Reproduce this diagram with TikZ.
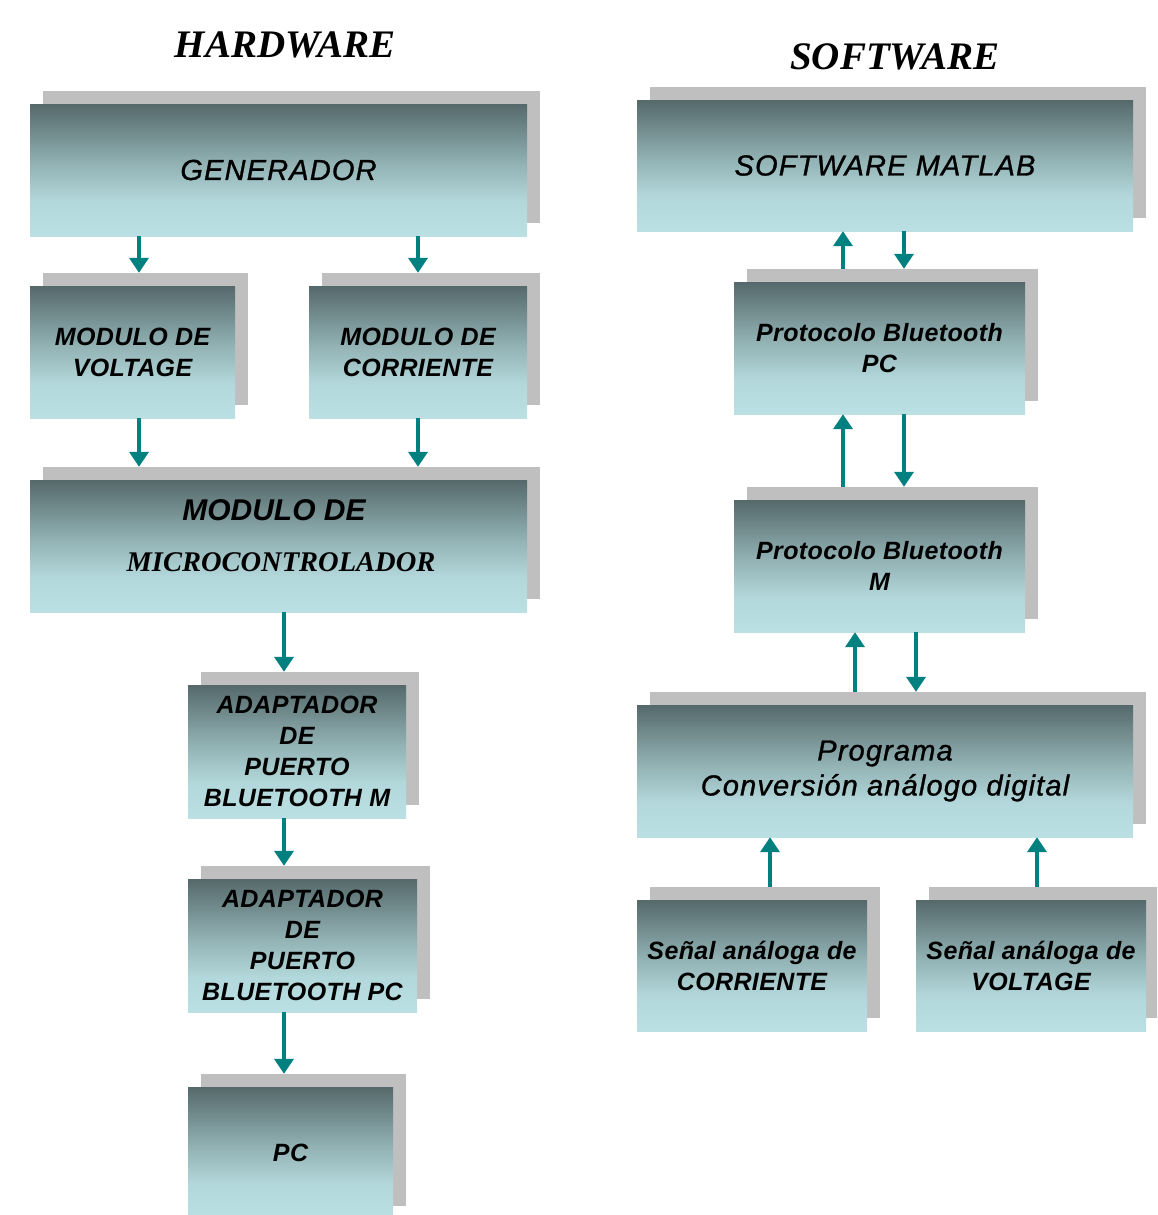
\documentclass[tikz,border=0pt]{standalone}
\usepackage{fontspec}
\setmainfont{Liberation Sans}
\newfontfamily\serifit{Liberation Serif}
\usetikzlibrary{arrows.meta}
\definecolor{boxdark}{HTML}{55696B}
\definecolor{boxmid}{HTML}{93B3B5}
\definecolor{boxlight}{HTML}{BAE0E3}
\definecolor{boxlight2}{HTML}{B3D8DB}
\definecolor{shadowgray}{HTML}{BFBFBF}
\definecolor{arrowteal}{HTML}{00807F}
\pgfdeclareverticalshading{boxshade}{100bp}{color(0bp)=(boxlight); color(25bp)=(boxlight); color(38bp)=(boxlight2); color(52bp)=(boxmid); color(75bp)=(boxdark); color(100bp)=(boxdark)}
\tikzset{
  shbox/.style={rectangle, draw=none, fill=shadowgray, inner sep=0pt},
  frbox/.style={rectangle, draw=none, shading=boxshade, inner sep=0pt, align=center, text=black},
  arr/.style={draw=arrowteal, line width=4pt, -{Triangle[width=19pt,length=15pt]}},
  bi/.style={font=\fontsize{25}{31}\selectfont\bfseries\itshape\addfontfeature{LetterSpace=1.5}},
  ri/.style={font=\fontsize{29}{35}\selectfont\itshape\addfontfeature{LetterSpace=4,FakeBold=1}},
}
\newcommand\mybox[7]{%
  \node[shbox, minimum width=#4pt, minimum height=#5pt] (#1-s) at (#2+13,#3-13) {};
  \node[frbox, minimum width=#4pt, minimum height=#5pt, #7] (#1) at (#2,#3) {#6};}
\begin{document}
\begin{tikzpicture}[x=1pt,y=-1pt]
\clip (0,0) rectangle (1157,1215);
\fill[white] (0,0) rectangle (1157,1215);
% titles
\node[font=\fontsize{39}{42}\selectfont\serifit\bfseries\itshape] (hw) at (285,45) {HARDWARE};
\node[font=\fontsize{39}{42}\selectfont\serifit\bfseries\itshape] (sw) at (895,57) {SOFTWARE};
% hardware
\mybox{gen}{278.5}{170}{497}{132}{GENERADOR}{ri}
\mybox{vol}{132.5}{352}{205}{132}{MODULO DE\\VOLTAGE}{bi}
\mybox{cor}{418}{352}{218}{132}{MODULO DE\\CORRIENTE}{bi}
\mybox{mic}{278.5}{546}{497}{132}{}{bi}
\node[font=\fontsize{30}{35}\selectfont\bfseries\itshape] (mict1) at (274,510) {MODULO DE};
\node[font=\fontsize{28.5}{30}\selectfont\serifit\bfseries\itshape] (mict2) at (281,562) {MICROCONTROLADOR};
\mybox{adm}{297}{751.5}{218}{133}{ADAPTADOR\\DE\\PUERTO\\BLUETOOTH M}{bi}
\mybox{adp}{302.5}{945.5}{229}{133}{ADAPTADOR\\DE\\PUERTO\\BLUETOOTH PC}{bi}
\mybox{pc}{290.5}{1153}{205}{132}{PC}{bi}
% software
\mybox{mat}{885}{165.5}{496}{131}{SOFTWARE MATLAB}{ri}
\mybox{bpc}{879.5}{348}{291}{132}{Protocolo Bluetooth\\PC}{bi}
\mybox{bm}{879.5}{566}{291}{132}{Protocolo Bluetooth\\M}{bi}
\mybox{prog}{885}{771}{496}{132}{Programa\\Conversión análogo digital}{ri}
\mybox{sc}{752}{965.5}{230}{131}{Señal análoga de\\CORRIENTE}{bi}
\mybox{sv}{1031}{965.5}{230}{131}{Señal análoga de\\VOLTAGE}{bi}
% hardware arrows
\draw[arr] (gen.south -| 139,0) -- (vol-s.north -| 139,0);
\draw[arr] (gen.south -| 418,0) -- (cor-s.north -| 418,0);
\draw[arr] (vol.south -| 139,0) -- (mic-s.north -| 139,0);
\draw[arr] (cor.south -| 418,0) -- (mic-s.north -| 418,0);
\draw[arr] (mic.south -| 284,0) -- (adm-s.north -| 284,0);
\draw[arr] (adm.south -| 284,0) -- (adp-s.north -| 284,0);
\draw[arr] (adp.south -| 284,0) -- (pc-s.north -| 284,0);
% software arrows
\draw[arr] (bpc-s.north -| 843,0) -- (mat.south -| 843,0);
\draw[arr] (mat.south -| 904,0) -- (bpc-s.north -| 904,0);
\draw[arr] (bm-s.north -| 843,0) -- (bpc.south -| 843,0);
\draw[arr] (bpc.south -| 904,0) -- (bm-s.north -| 904,0);
\draw[arr] (prog-s.north -| 855,0) -- (bm.south -| 855,0);
\draw[arr] (bm.south -| 916,0) -- (prog-s.north -| 916,0);
\draw[arr] (sc-s.north -| 770,0) -- (prog.south -| 770,0);
\draw[arr] (sv-s.north -| 1037,0) -- (prog.south -| 1037,0);
\end{tikzpicture}
\end{document}
